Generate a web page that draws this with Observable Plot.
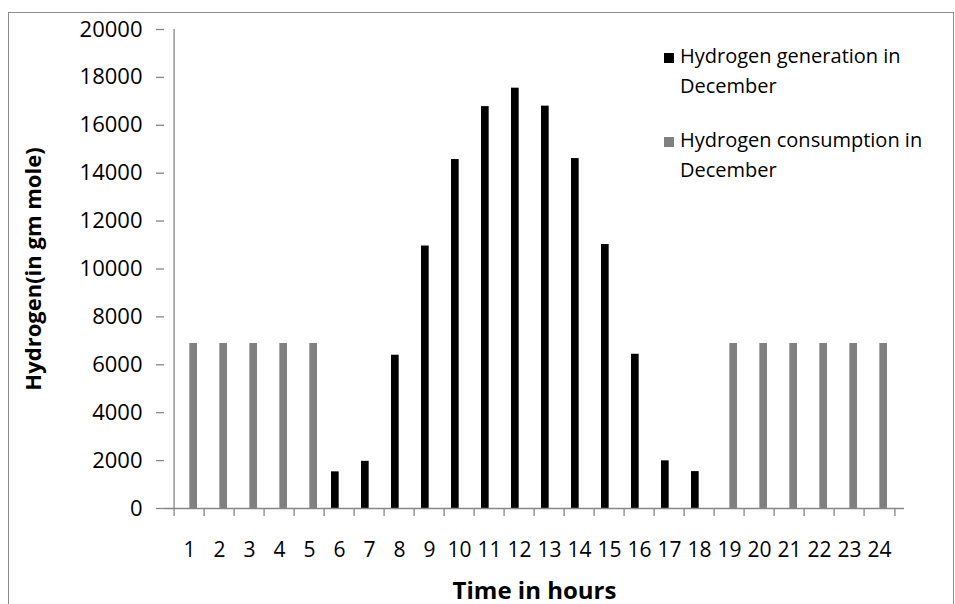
<!DOCTYPE html>
<html>
<head>
<meta charset="utf-8">
<script src="https://cdn.jsdelivr.net/npm/d3@7"></script>
<script src="https://cdn.jsdelivr.net/npm/@observablehq/plot@0.6"></script>
<style>
  body { margin: 0; background: #fff; }
  #wrap { position: relative; width: 955px; height: 604px; overflow: hidden; font-family: "Open Sans", sans-serif; }
  #border { position: absolute; left: 8px; top: 12px; width: 946px; height: 640px; border: 1px solid #8c8c8c; box-sizing: border-box; pointer-events: none; }
  .item { position: absolute; left: 664px; font-size: 20px; line-height: 30px; color: #000; }
  .item .sw { position: absolute; left: 0; top: 12px; width: 10px; height: 10px; }
  .item .tx { position: absolute; left: 16px; top: 0; white-space: nowrap; }
</style>
</head>
<body>
<div id="wrap"><div id="border"></div></div>
<script>
// ---- data ----
const hours = [1, 2, 3, 4, 5, 6, 7, 8, 9, 10, 11, 12, 13, 14, 15, 16, 17, 18, 19, 20, 21, 22, 23, 24];
const generation = [0, 0, 0, 0, 0, 1530, 1970, 6400, 10960, 14570, 16780, 17550, 16800, 14610, 11020, 6440, 1990, 1540, 0, 0, 0, 0, 0, 0];
const consumption = [6890, 6890, 6890, 6890, 6890, 0, 0, 0, 0, 0, 0, 0, 0, 0, 0, 0, 0, 0, 6890, 6890, 6890, 6890, 6890, 6890];
const seriesNames = ["Hydrogen generation in December", "Hydrogen consumption in December"];
const seriesColors = ["#000000", "#808080"];
const yTicks = [0, 2000, 4000, 6000, 8000, 10000, 12000, 14000, 16000, 18000, 20000];
const xTitle = "Time in hours";
const yTitle = "Hydrogen(in gm mole)";

// ---- layout ----
const W = 955, H = 604, mL = 164, mR = 51, mT = 29, mB = 96;
const step = (W - mL - mR) / hours.length;
const barW = 8.5, outer = 7;
const axisGray = "#868686";

const genRows = hours.map((h, i) => ({hour: h, value: generation[i]})).filter(d => d.value > 0);
const conRows = hours.map((h, i) => ({hour: h, value: consumption[i]})).filter(d => d.value > 0);

const chart = Plot.plot({
  width: W, height: H,
  marginLeft: mL, marginRight: mR, marginTop: mT, marginBottom: mB,
  style: {fontFamily: '"Open Sans", sans-serif', color: "#000", background: "transparent", overflow: "visible"},
  x: {type: "band", domain: hours, padding: 0},
  y: {domain: [0, 20000]},
  marks: [
    Plot.barY(genRows, {x: "hour", y: "value", fill: seriesColors[0], insetLeft: outer, insetRight: step - outer - barW}),
    Plot.barY(conRows, {x: "hour", y: "value", fill: seriesColors[1], insetLeft: step - outer - barW, insetRight: outer}),
    Plot.ruleY([0], {stroke: axisGray, strokeWidth: 1.3}),
    Plot.ruleX([hours[0]], {dx: -step / 2, y1: 0, y2: 20000, stroke: axisGray, strokeWidth: 1.3}),
    Plot.axisY({ticks: yTicks, tickSize: 8, tickPadding: 14, tickFormat: d => String(d), fontSize: 22, stroke: axisGray, strokeWidth: 1.3, fill: "#000", label: null}),
    Plot.axisY({ticks: yTicks, tickSize: 0, tickFormat: () => "", label: yTitle, labelAnchor: "center", labelArrow: "none", labelOffset: 139, fontSize: 22, fontWeight: "bold", fill: "#000"}),
    Plot.axisX({tickSize: 0, tickPadding: 34, fontSize: 21, fill: "#000", label: null}),
    Plot.axisX({tickSize: 8, tickFormat: () => "", dx: -step / 2, stroke: axisGray, strokeWidth: 1.3, label: null}),
    Plot.axisX({ticks: [hours[hours.length - 1]], tickSize: 8, tickFormat: () => "", dx: step / 2, stroke: axisGray, strokeWidth: 1.3, label: null}),
    Plot.axisX({tickSize: 0, tickFormat: () => "", label: xTitle, labelAnchor: "center", labelArrow: "none", labelOffset: 90, fontSize: 24, fontWeight: "bold", fill: "#000"})
  ]
});

const wrap = document.getElementById("wrap");
wrap.insertBefore(chart, wrap.firstChild);

// legend
const legendTops = [41, 125];
seriesNames.forEach((name, i) => {
  const words = name.split(" ");
  const line1 = words.slice(0, -1).join(" ");
  const line2 = words[words.length - 1];
  const item = document.createElement("div");
  item.className = "item";
  item.style.top = legendTops[i] + "px";
  const sw = document.createElement("div");
  sw.className = "sw";
  sw.style.background = seriesColors[i];
  const tx = document.createElement("div");
  tx.className = "tx";
  tx.appendChild(document.createTextNode(line1));
  tx.appendChild(document.createElement("br"));
  tx.appendChild(document.createTextNode(line2));
  item.appendChild(sw);
  item.appendChild(tx);
  wrap.appendChild(item);
});
</script>
</body>
</html>
